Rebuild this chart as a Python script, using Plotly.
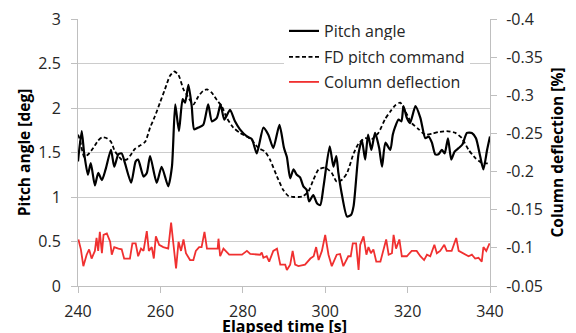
import plotly.graph_objects as go

# Pitch angle [deg]
pitch_t = [240.0, 240.9, 241.5, 242.4, 243.1, 244.1, 244.9, 245.8, 246.7, 248.0, 248.8, 249.8,
           250.6, 251.4, 252.9, 254.0, 254.6, 255.9, 256.7, 257.5, 259.1, 260.3, 261.9, 262.8,
           263.6, 264.5, 265.4, 266.0, 266.8, 267.6, 268.2, 269.2, 270.4, 271.6, 272.5, 273.7,
           274.6, 275.5, 276.9, 278.1, 279.3, 281.0, 282.2, 283.4, 285.0, 286.2, 287.4, 288.9,
           290.0, 290.7, 291.5, 292.3, 293.1, 293.9, 294.7, 295.5, 296.1, 297.1, 298.0, 298.8,
           299.6, 301.1, 302.0, 302.7, 303.2, 304.0, 305.3, 306.3, 306.9, 308.1, 308.9, 309.7,
           310.4, 311.2, 312.1, 313.1, 313.8, 314.6, 315.8, 316.4, 317.0, 317.8, 318.5, 319.0,
           319.8, 320.6, 321.9, 323.1, 324.3, 325.1, 325.9, 326.7, 327.5, 328.3, 329.0, 329.8,
           330.6, 331.4, 332.4, 333.3, 334.4, 335.6, 336.6, 337.6, 338.4, 339.3, 340.0]
pitch_v = [1.40, 1.74, 1.49, 1.25, 1.38, 1.13, 1.27, 1.19, 1.31, 1.53, 1.34, 1.48,
           1.49, 1.38, 1.16, 1.40, 1.42, 1.23, 1.27, 1.46, 1.16, 1.34, 1.12, 1.34,
           2.04, 1.74, 2.10, 2.06, 2.26, 2.02, 1.76, 1.78, 1.81, 2.04, 1.85, 1.89,
           2.04, 1.87, 1.98, 1.85, 1.76, 1.68, 1.65, 1.49, 1.78, 1.70, 1.55, 1.81,
           1.55, 1.45, 1.21, 1.31, 1.25, 1.22, 1.12, 1.08, 0.95, 1.02, 0.93, 0.91,
           1.12, 1.57, 1.34, 1.46, 1.27, 1.04, 0.78, 0.80, 0.90, 1.49, 1.64, 1.42,
           1.70, 1.53, 1.72, 1.55, 1.34, 1.61, 1.53, 1.70, 1.79, 1.87, 1.85, 2.02,
           1.89, 1.83, 2.02, 1.89, 1.66, 1.68, 1.61, 1.48, 1.48, 1.53, 1.49, 1.66,
           1.42, 1.51, 1.55, 1.59, 1.72, 1.72, 1.66, 1.46, 1.31, 1.53, 1.68]

# FD pitch command [deg]
fd_t = [240.0, 240.5, 241.5, 242.5, 243.7, 244.8, 245.8, 247.0, 248.0, 249.0, 250.0, 250.6,
        251.8, 252.6, 253.8, 255.1, 256.3, 257.5, 258.7, 259.9, 261.1, 262.3, 263.4, 264.4,
        265.6, 266.4, 268.0, 269.2, 270.3, 271.3, 272.5, 273.7, 274.9, 276.1, 277.7, 279.3,
        281.0, 282.2, 283.8, 285.4, 286.6, 288.3, 289.8, 291.1, 292.5, 293.5, 294.7, 295.9,
        297.1, 298.4, 300.0, 301.6, 302.8, 304.0, 305.3, 306.9, 308.1, 309.7, 311.3, 312.9,
        314.6, 315.8, 317.0, 318.2, 319.8, 321.0, 322.7, 324.3, 325.9, 327.5, 329.5, 331.6,
        333.2, 334.8, 336.4, 338.1, 340.0]
fd_v = [1.70, 1.64, 1.45, 1.48, 1.55, 1.63, 1.67, 1.66, 1.62, 1.51, 1.45, 1.42,
        1.42, 1.46, 1.54, 1.58, 1.62, 1.78, 1.91, 2.06, 2.21, 2.36, 2.41, 2.37,
        2.21, 2.15, 2.04, 2.13, 2.19, 2.21, 2.17, 2.09, 2.02, 1.89, 1.78, 1.72,
        1.68, 1.64, 1.55, 1.51, 1.42, 1.23, 1.08, 1.01, 1.00, 1.00, 1.01, 1.06,
        1.19, 1.31, 1.33, 1.27, 1.17, 1.19, 1.27, 1.49, 1.60, 1.66, 1.65, 1.72,
        1.88, 1.96, 2.03, 2.06, 1.93, 1.83, 1.76, 1.70, 1.71, 1.73, 1.74, 1.72,
        1.66, 1.53, 1.44, 1.38, 1.38]

# Column deflection [%] (right axis)
col_t = [240.1, 240.7, 241.3, 242.1, 242.7, 243.3, 244.1, 244.5, 244.9, 245.3, 245.8, 246.2,
         247.0, 247.8, 248.2, 248.8, 249.8, 250.6, 251.2, 252.6, 253.2, 254.0, 254.6, 255.3,
         255.9, 256.7, 257.2, 257.9, 258.4, 258.9, 259.7, 260.7, 261.9, 262.6, 263.1, 263.8,
         264.4, 265.0, 265.6, 266.2, 267.2, 268.0, 268.6, 269.4, 270.0, 270.7, 271.3, 272.5,
         273.9, 274.1, 274.5, 275.3, 275.9, 276.7, 278.1, 279.8, 281.0, 281.8, 284.2, 284.6,
         285.0, 285.8, 286.4, 287.4, 288.3, 289.1, 290.3, 290.7, 291.5, 292.1, 292.7, 293.5,
         295.1, 296.4, 297.2, 297.8, 298.4, 299.2, 300.0, 300.8, 301.6, 302.8, 303.6, 304.4,
         305.6, 306.2, 306.7, 307.5, 308.1, 308.5, 309.3, 310.0, 310.5, 311.1, 311.7, 312.4,
         313.4, 314.2, 314.8, 315.4, 316.2, 316.6, 317.2, 318.0, 318.6, 319.8, 321.0, 322.2,
         323.1, 324.0, 324.7, 325.5, 326.5, 327.1, 327.9, 328.9, 329.5, 330.7, 331.8, 332.4,
         333.6, 334.8, 335.6, 336.4, 337.2, 338.0, 338.4, 339.1, 339.9]
col_v = [-0.111, -0.098, -0.076, -0.091, -0.098, -0.086, -0.096, -0.113, -0.096, -0.121, -0.093, -0.117,
         -0.119, -0.108, -0.091, -0.101, -0.099, -0.098, -0.086, -0.086, -0.106, -0.106, -0.089, -0.099,
         -0.096, -0.122, -0.096, -0.101, -0.086, -0.115, -0.104, -0.101, -0.099, -0.133, -0.108, -0.073,
         -0.108, -0.096, -0.111, -0.093, -0.084, -0.084, -0.096, -0.101, -0.101, -0.121, -0.099, -0.099,
         -0.099, -0.112, -0.089, -0.099, -0.096, -0.091, -0.091, -0.091, -0.096, -0.092, -0.091, -0.094,
         -0.087, -0.089, -0.082, -0.096, -0.099, -0.078, -0.078, -0.071, -0.078, -0.096, -0.078, -0.076,
         -0.078, -0.086, -0.089, -0.101, -0.084, -0.096, -0.117, -0.091, -0.076, -0.091, -0.092, -0.076,
         -0.089, -0.089, -0.106, -0.106, -0.071, -0.104, -0.115, -0.091, -0.101, -0.093, -0.098, -0.082,
         -0.082, -0.098, -0.111, -0.091, -0.093, -0.117, -0.099, -0.111, -0.089, -0.089, -0.096, -0.096,
         -0.089, -0.084, -0.091, -0.089, -0.104, -0.093, -0.096, -0.104, -0.096, -0.096, -0.113, -0.096,
         -0.093, -0.089, -0.091, -0.086, -0.087, -0.082, -0.101, -0.096, -0.106]

x_ticks = [240, 260, 280, 300, 320, 340]
left_ticks = [0, 0.5, 1, 1.5, 2, 2.5, 3]
left_labels = ["0", "0.5", "1", "1.5", "2", "2.5", "3"]
right_ticks = [-0.4, -0.35, -0.3, -0.25, -0.2, -0.15, -0.1, -0.05]
right_labels = ["-0.4", "-0.35", "-0.3", "-0.25", "-0.2", "-0.15", "-0.1", "-0.05"]
x_title = "Elapsed time [s]"

FONT = "Open Sans"
TXT = "#262626"
AX = "#bfbfbf"

fig = go.Figure()
fig.add_trace(go.Scatter(x=pitch_t, y=pitch_v, name="Pitch angle", mode="lines",
                         line=dict(color="black", width=2.2, shape="spline", smoothing=0.6),
                         legend="legend"))
fig.add_trace(go.Scatter(x=fd_t, y=fd_v, name="FD pitch command", mode="lines",
                         line=dict(color="black", width=1.8, dash="4px,2.5px", shape="spline", smoothing=0.6),
                         legend="legend2"))
fig.add_trace(go.Scatter(x=col_t, y=col_v, name="Column deflection", mode="lines",
                         line=dict(color="#f03030", width=1.8),
                         yaxis="y2", legend="legend3"))

leg_common = dict(bgcolor="white", font=dict(family=FONT, size=16, color=TXT),
                  xanchor="left", yanchor="middle", borderwidth=0, tracegroupgap=0)
fig.update_layout(
    width=576, height=333,
    margin=dict(l=78, r=86, t=19, b=47, autoexpand=False),
    paper_bgcolor="white", plot_bgcolor="white",
    font=dict(family=FONT, size=16, color=TXT),
    showlegend=True,
    legend=dict(x=0.5, y=0.955, **leg_common),
    legend2=dict(x=0.5, y=0.858, **leg_common),
    legend3=dict(x=0.5, y=0.764, **leg_common),
    xaxis=dict(range=[240, 340], tickvals=x_ticks, showgrid=False, zeroline=False, automargin=False,
               showline=True, linecolor=AX, linewidth=1, ticks="outside", ticklen=6, tickcolor=AX,
               ticklabelstandoff=5,
               tickfont=dict(family=FONT, size=16, color=TXT)),
    yaxis=dict(range=[0, 3], tickvals=left_ticks, ticktext=left_labels, showgrid=True, gridcolor="#cccccc",
               zeroline=False, showline=True, linecolor=AX, linewidth=1, ticks="outside", ticklen=6, tickcolor=AX,
               ticklabelstandoff=7, automargin=False,
               tickfont=dict(family=FONT, size=16, color=TXT),
               title=dict(text="<b>Pitch angle [deg]</b>", font=dict(family=FONT, size=15.5, color="black"), standoff=3)),
    yaxis2=dict(range=[-0.05, -0.4], overlaying="y", side="right", tickvals=right_ticks, ticktext=right_labels,
                showgrid=False, zeroline=False, showline=True, linecolor=AX, linewidth=1, automargin=False,
                ticks="outside", ticklen=6, tickcolor=AX, ticklabelstandoff=6,
                tickfont=dict(family=FONT, size=16, color=TXT),
                title=dict(text="<b>Column deflection [%]</b>", font=dict(family=FONT, size=15.5, color="black"), standoff=10)),
    annotations=[dict(text="<b>" + x_title + "</b>", xref="paper", yref="paper", x=0.5, y=-0.148,
                      xanchor="center", yanchor="middle", showarrow=False,
                      font=dict(family=FONT, size=16, color="black"))],
)

fig.write_html("out.html", config={"displayModeBar": False},
               post_script="document.body.style.margin='0px';")
